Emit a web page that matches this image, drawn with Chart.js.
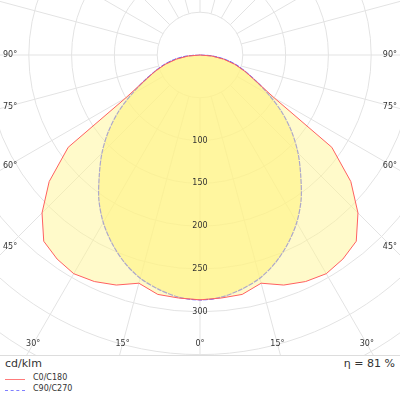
<!DOCTYPE html>
<html><head><meta charset="utf-8">
<script src="https://cdn.jsdelivr.net/npm/chart.js@4/dist/chart.umd.min.js"></script>
<style>
body{margin:0;width:400px;height:400px;overflow:hidden;background:#fff;font-family:Tahoma,"DejaVu Sans",sans-serif;}
#wrap{position:absolute;left:0;top:0;width:400px;height:355px;}
.t{position:absolute;font-size:10px;color:#333;}
</style></head><body>
<div id="wrap"><canvas id="c"></canvas></div>
<div style="position:absolute;left:0;top:355px;width:400px;height:1px;background:#ddd"></div>
<div class="t" style="left:5px;top:357px;font-size:11px">cd/klm</div>
<div class="t" style="right:5px;top:357px;font-size:11px">η = 81 %</div>
<div style="position:absolute;left:5px;top:379px;width:20px;border-top:1px solid #ff7b7b"></div>
<div class="t" style="left:33px;top:373px;font-size:8px">C0/C180</div>
<div style="position:absolute;left:5px;top:390px;width:20px;border-top:1px dashed #8080ff"></div>
<div class="t" style="left:33px;top:384px;font-size:8px">C90/C270</div>
<script>
const gammaAngles = [0,5,10,15,20,25,30,35,40,45,50,55,60,65,70,75,80,85,90];
const c0c180 = [286,285,284,276,286,292,295,291,284,261,230,188,100,72,56,42,28,14,0];
const c90c270 = [286,284,278,270,258,243,226,206,183,162,140,117,93,72,56,43,30,15,0];
const ringValues = [50,100,150,200,250,300,350,400,450];
const ringLabels = ['100','150','200','250','300'];
const angleLabels = [90,75,60,45,30,15,0];

function curve(vals){
  const pts=[];
  for(let i=gammaAngles.length-1;i>=0;i--){const a=gammaAngles[i]*Math.PI/180;pts.push({x:-vals[i]*Math.sin(a),y:-vals[i]*Math.cos(a)});}
  for(let i=1;i<gammaAngles.length;i++){const a=gammaAngles[i]*Math.PI/180;pts.push({x:vals[i]*Math.sin(a),y:-vals[i]*Math.cos(a)});}
  return pts;
}
const k=0.856;
const grid={id:'grid',beforeDatasetsDraw(ch){
  const {ctx,scales:{x,y}}=ch;const cx=x.getPixelForValue(0),cy=y.getPixelForValue(0);
  const ppu=x.getPixelForValue(100)-cx;
  ctx.save();ctx.strokeStyle='#e3e3e3';ctx.lineWidth=1;
  ringValues.forEach(r=>{ctx.beginPath();ctx.arc(cx,cy,r*ppu/100,0,2*Math.PI);ctx.stroke();});
  for(let d=0;d<360;d+=15){const a=d*Math.PI/180;ctx.beginPath();
    ctx.moveTo(cx+Math.sin(a)*50*ppu/100,cy+Math.cos(a)*50*ppu/100);
    ctx.lineTo(cx+Math.sin(a)*600*ppu/100,cy+Math.cos(a)*600*ppu/100);ctx.stroke();}
  ctx.restore();
},afterDatasetsDraw(ch){
  const {ctx,scales:{x,y},chartArea:ca}=ch;const cx=x.getPixelForValue(0),cy=y.getPixelForValue(0);
  ctx.save();ctx.fillStyle='#333';ctx.font='8px Tahoma, "DejaVu Sans", sans-serif';ctx.textAlign='center';ctx.textBaseline='middle';
  ringLabels.forEach(l=>{ctx.fillText(l,cx,y.getPixelForValue(-Number(l)));});
  const bottom=ca.bottom-11;
  angleLabels.forEach(d=>{const a=d*Math.PI/180;
    const dyEdge=(cx-8)/Math.tan(a);
    if(d>=45){const yy=cy+(d===90?0:dyEdge);ctx.textAlign='left';ctx.fillText(d+'°',3,yy);ctx.textAlign='right';ctx.fillText(d+'°',397,yy);}
    else{const dx=(bottom-cy)*Math.tan(a);ctx.textAlign='center';ctx.fillText(d+'°',cx-dx,bottom);if(d)ctx.fillText(d+'°',cx+dx,bottom);}
  });
  ctx.restore();
}};
new Chart(document.getElementById('c'),{type:'scatter',
 data:{datasets:[
  {data:curve(c0c180),showLine:true,borderColor:'#ff6060',borderWidth:1,backgroundColor:'rgba(255,245,150,0.5)',fill:'shape',pointRadius:0,tension:0},
  {data:curve(c90c270),showLine:true,borderColor:'#5a5aff',borderWidth:1.2,borderDash:[5,1],backgroundColor:'rgba(255,240,110,0.6)',fill:'shape',pointRadius:0,tension:0.3}
 ]},
 plugins:[grid],
 options:{responsive:true,maintainAspectRatio:false,animation:false,
  layout:{padding:0},
  plugins:{legend:{display:false},tooltip:{enabled:false}},
  scales:{x:{type:'linear',display:false,min:-200/k,max:200/k},y:{type:'linear',display:false,min:-355/k+55/k,max:55/k}}}
});
</script></body></html>
